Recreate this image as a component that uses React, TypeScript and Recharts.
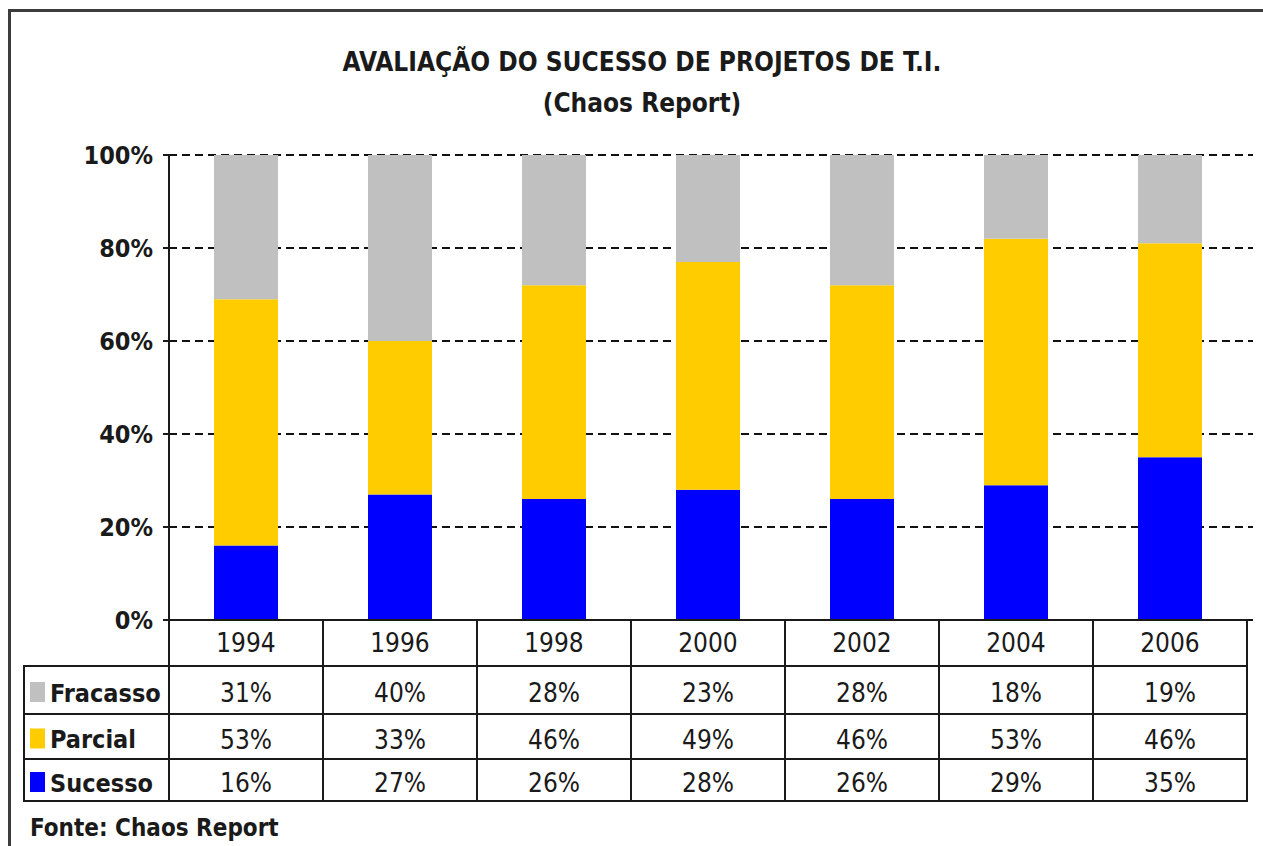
import React from "react";
import { BarChart, Bar, XAxis, YAxis, CartesianGrid } from "recharts";

const years = ["1994", "1996", "1998", "2000", "2002", "2004", "2006"];
const fracasso = [31, 40, 28, 23, 28, 18, 19];
const parcial = [53, 33, 46, 49, 46, 53, 46];
const sucesso = [16, 27, 26, 28, 26, 29, 35];
const yTicks = [0, 20, 40, 60, 80, 100];

const series = [
  { key: "fracasso", label: "Fracasso", values: fracasso, color: "#c0c0c0" },
  { key: "parcial", label: "Parcial", values: parcial, color: "#ffcc00" },
  { key: "sucesso", label: "Sucesso", values: sucesso, color: "#0000ff" },
];

const data = years.map((year, i) => ({
  year,
  sucesso: sucesso[i],
  parcial: parcial[i],
  fracasso: fracasso[i],
}));

const FONT = "'DejaVu Sans Condensed', 'DejaVu Sans', sans-serif";
const INK = "#1a1a1a";
const HEADER_H = 46;
const ROW_H = [48, 45, 42];
const LEGEND_LEFT = 16;

// each x tick draws one column of the data table under the plot
const TableTick = (props: any) => {
  const { x, y, payload, index } = props;
  const w = payload && payload.offset ? payload.offset * 2 : 154;
  const left = x - w / 2;
  let rowTop = y + HEADER_H;
  const cells = series.map((s, r) => {
    const top = rowTop;
    rowTop += ROW_H[r];
    return (
      <g key={s.key}>
        <rect x={left} y={top} width={w} height={ROW_H[r]} fill="none" stroke={INK} strokeWidth={2} />
        <text x={x} y={top + ROW_H[r] / 2 + 3} textAnchor="middle" dominantBaseline="central"
          fontFamily={FONT} fontSize={26} fill={INK}>
          {s.values[index] + "%"}
        </text>
        {index === 0 && (
          <g>
            <rect x={LEGEND_LEFT} y={top} width={left - LEGEND_LEFT} height={ROW_H[r]}
              fill="none" stroke={INK} strokeWidth={2} />
            <rect x={LEGEND_LEFT + 6} y={top + ROW_H[r] / 2 - 8} width={15} height={20} fill={s.color} />
            <text x={LEGEND_LEFT + 26} y={top + ROW_H[r] / 2 + 3} dominantBaseline="central"
              fontFamily={FONT} fontSize={25} fontWeight="bold" fill={INK}>
              {s.label}
            </text>
          </g>
        )}
      </g>
    );
  });
  return (
    <g>
      <rect x={left} y={y} width={w} height={HEADER_H} fill="none" stroke={INK} strokeWidth={2} />
      <text x={x} y={y + HEADER_H / 2} textAnchor="middle" dominantBaseline="central"
        fontFamily={FONT} fontSize={26} fill={INK}>
        {payload.value}
      </text>
      {cells}
    </g>
  );
};

export default function App() {
  return (
    <div style={{ position: "fixed", top: 0, left: 0, width: 1263, height: 846, overflow: "hidden", background: "#fff" }}>
      <style>{"html, body { overflow: hidden; }"}</style>
      <div style={{ position: "absolute", top: 8, left: 8, width: 1255, height: 838 }}>
        <div
          style={{
            position: "absolute",
            top: 1,
            left: 0,
            width: 1300,
            height: 900,
            borderTop: "3px solid #3c3c3c",
            borderLeft: "3px solid #3c3c3c",
          }}
        />
        <div style={{ position: "absolute", top: 5, left: 1236, width: 40, height: 900, background: "#fff" }} />
        <div
          style={{
            position: "absolute",
            top: 34,
            left: 0,
            width: 1268,
            textAlign: "center",
            fontFamily: FONT,
            fontWeight: "bold",
            color: INK,
            fontSize: 26,
            lineHeight: "41px",
          }}
        >
          <div>AVALIAÇÃO DO SUCESSO DE PROJETOS DE T.I.</div>
          <div>(Chaos Report)</div>
        </div>
        <div style={{ position: "absolute", top: 0, left: 0 }}>
          <BarChart
            width={1255}
            height={830}
            data={data}
            margin={{ top: 147, right: 10, left: 101, bottom: 38 }}
            barSize={64}
          >
            <CartesianGrid vertical={false} stroke="#111" strokeWidth={2} strokeDasharray="8 5" />
            <XAxis
              dataKey="year"
              height={180}
              interval={0}
              tickSize={0}
              tickMargin={0}
              axisLine={false}
              tickLine={false}
              padding={{ left: 0, right: 6 }}
              tick={<TableTick />}
            />
            <YAxis
              width={60}
              domain={[0, 100]}
              ticks={yTicks}
              interval={0}
              tickFormatter={(v: number) => v + "%"}
              axisLine={{ stroke: INK, strokeWidth: 2 }}
              tickLine={{ stroke: INK, strokeWidth: 2 }}
              tickSize={6}
              tickMargin={10}
              tick={{ fontFamily: FONT, fontSize: 25, fontWeight: "bold", fill: INK }}
            />
            <Bar dataKey="sucesso" stackId="a" fill="#0000ff" isAnimationActive={false} />
            <Bar dataKey="parcial" stackId="a" fill="#ffcc00" isAnimationActive={false} />
            <Bar dataKey="fracasso" stackId="a" fill="#c0c0c0" isAnimationActive={false} />
          </BarChart>
        </div>
        <div
          style={{
            position: "absolute",
            top: 806,
            left: 22,
            fontFamily: FONT,
            fontWeight: "bold",
            fontSize: 24,
            color: INK,
          }}
        >
          Fonte: Chaos Report
        </div>
      </div>
    </div>
  );
}
